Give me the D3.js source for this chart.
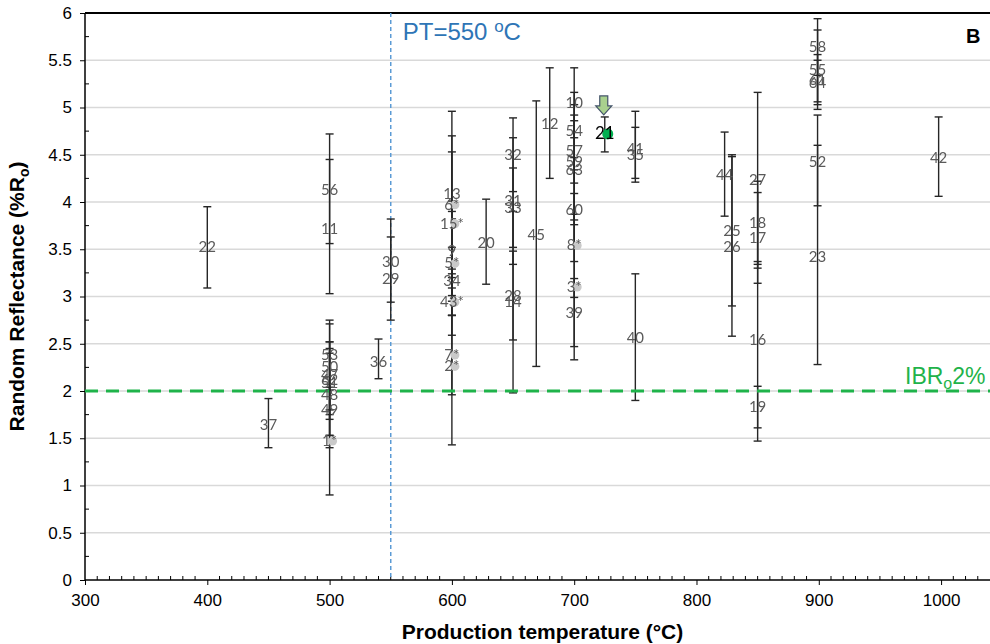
<!DOCTYPE html>
<html lang="en">
<head>
  <meta charset="UTF-8" />
  <script src="https://d3js.org/d3.v7.min.js"></script>
  <title>Random reflectance vs production temperature</title>
  <style>
    body { margin: 0; background: #fff; }
    svg { display: block; font-family: "Liberation Sans", Arial, sans-serif; }
    .ptlabel { font-family: "Liberation Sans Narrow", "Arial Narrow", Lato, sans-serif; }
  </style>
</head>
<body>
  <script>
    // data
    var labels = ["22","37","56","11","53","50","47","62","51","48","49","1*",
      "36","30","29",
      "13","6*","15*","9","5*","34","43*","7*","2*",
      "20","32","31","33","28","14","45","12",
      "10","54","57","59","63","60","8*","3*","39",
      "21","41","35","40","44","25","26",
      "27","18","17","16","19",
      "58","55","61","64","52","23","42"];
    var temps = [400,450,500,500,500,500,500,500,500,500,500,500,
      540,550,550,
      600,600,600,600,600,600,600,600,600,
      628,650,650,650,650,650,669,680,
      700,700,700,700,700,700,700,700,700,
      725,750,750,750,823,829,829,
      850,850,850,850,850,
      899,899,899,899,899,899,998];
    var reflect = [3.52,1.64,4.13,3.71,2.38,2.25,2.17,2.12,2.08,1.96,1.80,1.47,
      2.31,3.37,3.19,
      4.08,3.97,3.77,3.48,3.35,3.16,2.94,2.38,2.26,
      3.57,4.50,4.01,3.94,3.01,2.94,3.65,4.83,
      5.05,4.75,4.54,4.42,4.34,3.92,3.54,3.10,2.83,
      4.72,4.56,4.50,2.56,4.29,3.69,3.52,
      4.23,3.78,3.62,2.54,1.83,
      5.64,5.40,5.29,5.26,4.42,3.42,4.47];
    var errLow = [3.09,1.40,3.56,3.03,2.01,1.80,1.53,1.70,1.75,1.40,1.53,0.90,
      2.13,2.94,2.75,
      3.20,3.24,3.01,2.95,2.80,2.80,2.59,1.96,1.43,
      3.13,4.11,3.34,3.52,2.54,1.98,2.26,4.25,
      4.68,4.34,4.20,3.81,3.76,3.37,2.99,2.33,2.47,
      4.53,4.21,4.25,1.90,3.85,2.90,2.58,
      3.30,3.34,3.14,1.47,1.61,
      5.34,4.98,5.03,5.06,3.96,2.28,4.06];
    var errHigh = [3.95,1.92,4.72,4.45,2.75,2.71,2.52,2.45,2.40,2.52,2.07,2.04,
      2.55,3.82,3.63,
      4.96,4.70,4.53,4.01,3.90,3.52,3.29,2.80,3.09,
      4.03,4.89,4.68,4.36,3.48,3.90,5.07,5.42,
      5.42,5.16,4.86,5.03,4.92,4.47,4.09,3.87,3.19,
      4.90,4.96,4.79,3.24,4.74,4.50,4.48,
      5.16,4.22,4.10,3.37,2.05,
      5.94,5.82,5.56,5.50,4.92,4.60,4.90];
    var highlight = "21";
    var xTicks = [300,400,500,600,700,800,900,1000];
    var yTicks = [0,0.5,1,1.5,2,2.5,3,3.5,4,4.5,5,5.5,6];
    var ptTemp = 550, ibrLevel = 2;

    var data = labels.map(function (l, i) {
      return { label: l, t: temps[i], r: reflect[i], lo: errLow[i], hi: errHigh[i] };
    });

    var width = 990, height = 644;
    var mLeft = 85, mTop = 13, mBottom = 580;

    var x = d3.scaleLinear().domain([300, 1040]).range([mLeft, width]);
    var y = d3.scaleLinear().domain([0, 6]).range([mBottom, mTop]);

    var svg = d3.select("body").append("svg")
      .attr("width", width).attr("height", height);

    // horizontal gridlines
    svg.append("g").selectAll("line")
      .data(yTicks.filter(function (d) { return d > 0 && d < 6; }))
      .enter().append("line")
      .attr("x1", mLeft).attr("x2", width)
      .attr("y1", function (d) { return y(d); }).attr("y2", function (d) { return y(d); })
      .style("stroke", "#d9d9d9").style("stroke-width", 1.3);

    // minor ticks
    var yMinor = d3.range(0.25, 6, 0.5);
    svg.append("g").selectAll("line").data(yMinor).enter().append("line")
      .attr("x1", mLeft).attr("x2", mLeft + 4)
      .attr("y1", function (d) { return y(d); }).attr("y2", function (d) { return y(d); })
      .style("stroke", "#000");
    var xMinor = d3.range(310, 1040, 10).filter(function (d) { return d % 100 !== 0; });
    svg.append("g").selectAll("line").data(xMinor).enter().append("line")
      .attr("x1", function (d) { return x(d); }).attr("x2", function (d) { return x(d); })
      .attr("y1", mBottom - 4).attr("y2", mBottom)
      .style("stroke", "#000");

    // axes
    var xAxis = d3.axisBottom(x).tickValues(xTicks).tickSize(5).tickPadding(9)
      .tickFormat(d3.format("d"));
    var gx = svg.append("g").attr("transform", "translate(0," + mBottom + ")").call(xAxis);
    gx.select(".domain").remove();
    gx.append("line").attr("x1", mLeft).attr("x2", width).style("stroke", "#000").style("stroke-width", 1.5);
    gx.selectAll("text").style("font-size", "17px").style("fill", "#000");

    var yAxis = d3.axisLeft(y).tickValues(yTicks).tickSize(5).tickPadding(8)
      .tickFormat(function (d) { return String(d); });
    var gy = svg.append("g").attr("transform", "translate(" + mLeft + ",0)").call(yAxis);
    gy.select(".domain").remove();
    gy.append("line").attr("y1", mTop).attr("y2", mBottom).style("stroke", "#000").style("stroke-width", 1.5);
    gy.selectAll("text").style("font-size", "17px").style("fill", "#000");

    // top border
    svg.append("line").attr("x1", mLeft).attr("x2", width).attr("y1", mTop).attr("y2", mTop)
      .style("stroke", "#000").style("stroke-width", 2);

    // PT line
    svg.append("line")
      .attr("x1", x(ptTemp)).attr("x2", x(ptTemp)).attr("y1", mTop).attr("y2", mBottom)
      .style("stroke", "#5b9bd5").style("stroke-width", 1.5).style("stroke-dasharray", "4,3");
    var pt = svg.append("text").attr("x", x(ptTemp) + 12).attr("y", 40)
      .style("font-size", "24px").style("fill", "#2e75b6");
    pt.append("tspan").text("PT=550 ");
    pt.append("tspan").text("o").attr("dy", -8).style("font-size", "17px");
    pt.append("tspan").text("C").attr("dy", 8);

    // error bars
    var eb = svg.append("g").selectAll("g").data(data).enter().append("g")
      .style("stroke", "#262626").style("stroke-width", 1.4);
    eb.append("line")
      .attr("x1", function (d) { return x(d.t); }).attr("x2", function (d) { return x(d.t); })
      .attr("y1", function (d) { return y(d.lo); }).attr("y2", function (d) { return y(d.hi); });
    eb.append("line")
      .attr("x1", function (d) { return x(d.t) - 4; }).attr("x2", function (d) { return x(d.t) + 4; })
      .attr("y1", function (d) { return y(d.lo); }).attr("y2", function (d) { return y(d.lo); });
    eb.append("line")
      .attr("x1", function (d) { return x(d.t) - 4; }).attr("x2", function (d) { return x(d.t) + 4; })
      .attr("y1", function (d) { return y(d.hi); }).attr("y2", function (d) { return y(d.hi); });

    // IBRo 2% line
    svg.append("line")
      .attr("x1", mLeft).attr("x2", width).attr("y1", y(ibrLevel)).attr("y2", y(ibrLevel))
      .style("stroke", "#1fb34a").style("stroke-width", 3).style("stroke-dasharray", "13,8");
    var ibr = svg.append("text").attr("x", 905).attr("y", y(ibrLevel) - 7)
      .style("font-size", "23px").style("fill", "#1fb34a");
    ibr.append("tspan").text("IBR");
    ibr.append("tspan").text("o").attr("dy", 5).style("font-size", "16px");
    ibr.append("tspan").text("2%").attr("dy", -5);

    // markers (starred samples show a grey blob)
    svg.append("g").selectAll("circle")
      .data(data.filter(function (d) { return d.label.indexOf("*") >= 0; }))
      .enter().append("circle")
      .attr("cx", function (d) { return x(d.t) + 3; }).attr("cy", function (d) { return y(d.r); })
      .attr("r", 4.5).style("fill", "#c9c9c9");

    var hl = data.filter(function (d) { return d.label === highlight; });
    svg.append("g").selectAll("circle").data(hl).enter().append("circle")
      .attr("cx", function (d) { return x(d.t) + 3; }).attr("cy", function (d) { return y(d.r); })
      .attr("r", 5.5).style("fill", "#00b050");

    // point labels
    svg.append("g").style("filter", "grayscale(100%)").selectAll("text").data(data).enter().append("text")
      .attr("class", "ptlabel")
      .attr("x", function (d) { return x(d.t); })
      .attr("y", function (d) { return y(d.r) + 5; })
      .attr("text-anchor", "middle")
      .style("fill", function (d) { return d.label === highlight ? "#000" : "#5a5a5a"; })
      .style("font-size", function (d) { return d.label === highlight ? "17px" : "15px"; })
      .text(function (d) { return d.label; });

    // arrow over the highlighted sample
    svg.append("g").selectAll("path").data(hl).enter().append("path")
      .attr("transform", function (d) { return "translate(" + (x(d.t) - 1) + "," + (y(d.r) - 38) + ")"; })
      .attr("d", "M-4,0 H4 V10 H8 L0,19 L-8,10 H-4 Z")
      .style("fill", "#a9d18e").style("stroke", "#44546a").style("stroke-width", 1.2);

    // panel letter
    svg.append("text").attr("x", 966).attr("y", 43)
      .style("font-size", "20px").style("font-weight", "bold").text("B");

    // axis titles
    svg.append("text").attr("x", (mLeft + width) / 2 + 5).attr("y", 639)
      .attr("text-anchor", "middle")
      .style("font-size", "21px").style("font-weight", "bold")
      .text("Production temperature (°C)");
    var yt = svg.append("text")
      .attr("transform", "translate(24," + ((mTop + mBottom) / 2) + ") rotate(-90)")
      .attr("x", 0)
      .style("font-size", "21px").style("font-weight", "bold");
    yt.append("tspan").text("Random Reflectance (%R");
    yt.append("tspan").text("o").attr("dy", 5).style("font-size", "14px");
    yt.append("tspan").text(")").attr("dy", -5);
    var ytw = yt.node().getBBox().width;
    yt.attr("x", -ytw / 2);
  </script>
</body>
</html>
